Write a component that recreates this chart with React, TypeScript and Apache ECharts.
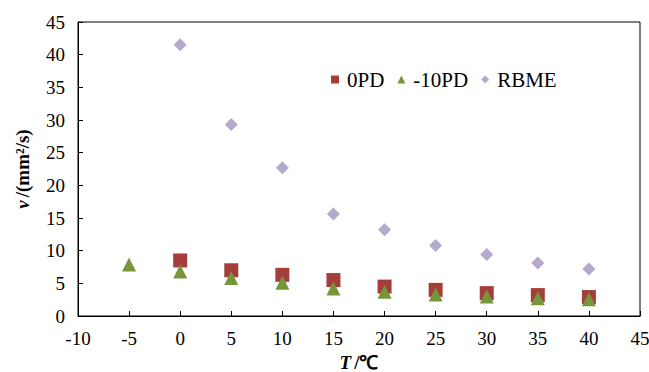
import React, { useEffect, useRef } from "react";
import * as echarts from "echarts";

const temps0PD = [0, 5, 10, 15, 20, 25, 30, 35, 40];
const values0PD = [8.5, 7.0, 6.3, 5.5, 4.5, 4.0, 3.5, 3.2, 2.9];

const temps10PD = [-5, 0, 5, 10, 15, 20, 25, 30, 35, 40];
const values10PD = [7.9, 6.8, 5.8, 5.1, 4.2, 3.7, 3.3, 3.0, 2.7, 2.55];

const tempsRBME = [0, 5, 10, 15, 20, 25, 30, 35, 40];
const valuesRBME = [41.5, 29.3, 22.7, 15.6, 13.2, 10.8, 9.4, 8.1, 7.2];

const seriesNames = ["0PD", "-10PD", "RBME"];

const FONT = "Liberation Serif, serif";

const pairs = (xs: number[], ys: number[]) => xs.map((x, i) => [x, ys[i]]);

export default function App() {
  const ref = useRef<HTMLDivElement>(null);
  useEffect(() => {
    if (!ref.current) return;
    const chart = echarts.init(ref.current, undefined, { renderer: "svg" });
    chart.setOption({
      animation: false,
      backgroundColor: "#fff",
      textStyle: { fontFamily: FONT },
      grid: {
        left: 78,
        top: 22,
        right: 9,
        bottom: 56,
        containLabel: false,
        outerBoundsMode: "none",
        show: true,
        borderColor: "#000",
        borderWidth: 1,
        backgroundColor: "transparent",
      },
      legend: {
        left: 326,
        top: 64,
        itemWidth: 8,
        itemHeight: 8,
        itemGap: 13,
        textStyle: { fontFamily: FONT, fontSize: 21, color: "#000", padding: [0, 0, 0, 3] },
        data: [
          { name: seriesNames[0], icon: "rect" },
          { name: seriesNames[1], icon: "triangle" },
          { name: seriesNames[2], icon: "diamond" },
        ],
      },
      xAxis: {
        type: "value",
        min: -10,
        max: 45,
        interval: 5,
        splitLine: { show: false },
        axisLine: { onZero: false, lineStyle: { color: "#000", width: 1 } },
        axisTick: { inside: true, length: 5, lineStyle: { color: "#000" } },
        axisLabel: { fontFamily: FONT, fontSize: 19, color: "#000", margin: 13 },
        name: "{b|T} {n|/℃}",
        nameLocation: "middle",
        nameGap: 28,
        nameTextStyle: {
          rich: {
            b: { fontFamily: FONT, fontSize: 19, fontWeight: "bold", fontStyle: "italic", color: "#000", lineHeight: 20 },
            n: { fontFamily: FONT, fontSize: 19, fontWeight: "bold", color: "#000", lineHeight: 20 },
          },
        },
      },
      yAxis: {
        type: "value",
        min: 0,
        max: 45,
        interval: 5,
        splitLine: { show: false },
        axisLine: { show: true, onZero: false, lineStyle: { color: "#000", width: 1 } },
        axisTick: { show: true, inside: true, length: 5, lineStyle: { color: "#000" } },
        axisLabel: { fontFamily: FONT, fontSize: 19, color: "#000", margin: 13 },
        name: "{i|v} {b|/(mm²/s)}",
        nameLocation: "middle",
        nameGap: 46,
        nameTextStyle: {
          rich: {
            i: { fontFamily: FONT, fontSize: 19, fontWeight: "bold", fontStyle: "italic", color: "#000" },
            b: { fontFamily: FONT, fontSize: 19, fontWeight: "bold", color: "#000" },
          },
        },
      },
      series: [
        {
          name: seriesNames[0],
          type: "scatter",
          symbol: "rect",
          symbolSize: 14,
          itemStyle: { color: "#A43E3B", opacity: 1 },
          data: pairs(temps0PD, values0PD),
        },
        {
          name: seriesNames[1],
          type: "scatter",
          symbol: "triangle",
          symbolSize: 14,
          itemStyle: { color: "#77963C", opacity: 1 },
          data: pairs(temps10PD, values10PD),
        },
        {
          name: seriesNames[2],
          type: "scatter",
          symbol: "diamond",
          symbolSize: 13,
          itemStyle: { color: "#B5A9CD", opacity: 1 },
          data: pairs(tempsRBME, valuesRBME),
        },
      ],
    });
    return () => chart.dispose();
  }, []);
  return <div ref={ref} style={{ width: 649, height: 372, position: "fixed", left: 0, top: 0 }} />;
}
